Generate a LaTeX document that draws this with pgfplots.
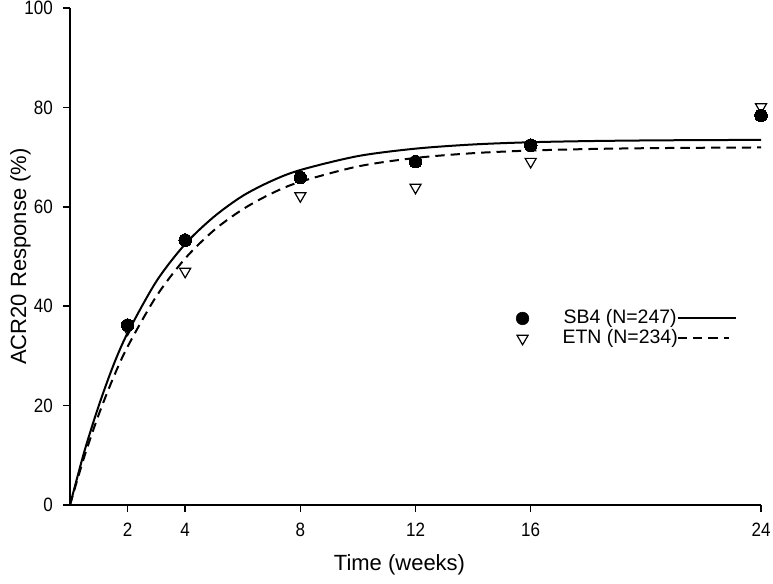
\documentclass[border=0pt]{standalone}
\usepackage{pgfplots}
\pgfplotsset{compat=1.18}
\usepackage{fontspec}
\setmainfont{Liberation Sans}
\begin{document}
\begin{tikzpicture}
\begin{axis}[
  scale only axis, width=518.25pt, height=372.75pt,
  xmin=0, xmax=24, ymin=0, ymax=100,
  axis lines*=left,
  axis line style={line width=1.1pt, black},
  tick align=outside,
  major tick style={line width=1.1pt, black},
  major tick length=5.25pt,
  xtick={2,4,8,12,16,24}, ytick={0,20,40,60,80,100},
  xticklabels={2,4,8,12,16,24},
  yticklabels={0,20,40,60,80,100},
  xticklabel style={font=\fontsize{14.5}{17}\selectfont, yshift=-4.5pt, xscale=0.88},
  yticklabel style={font=\fontsize{14.5}{17}\selectfont, xshift=-4.5pt, xscale=0.88},
  xlabel={Time (weeks)}, ylabel={ACR20 Response (\%)},
  label style={font=\fontsize{16.5}{19}\selectfont},
  xlabel style={at={(axis description cs:0.5,0)}, anchor=north, inner sep=0pt, yshift=-36.75pt, xshift=-12pt},
  ylabel style={at={(axis description cs:0,0.5)}, anchor=south, inner sep=0pt, yshift=29.25pt},
  clip=false,
  legend style={at={(axis cs:15.48,39.4)}, anchor=north west, draw=none, fill=none, inner sep=0pt,
    font=\fontsize{14.6}{17}\selectfont, row sep=1.5pt,
    nodes={inner sep=0pt, text height=10.5pt, text depth=3pt}},
]
\coordinate (sw) at (rel axis cs:0,0);
\coordinate (ne) at (rel axis cs:1,1);
% fitted curves
\addplot[black, line width=1.5pt, smooth, forget plot] coordinates {
 (0,0) (0.5,10.8) (1,20.0) (1.5,28.0) (2,34.6) (3,45.0) (4,52.5) (5,58.0) (6,62.2) (7,65.2) (8,67.4)
 (10,70.2) (12,71.7) (14,72.54) (16,72.99) (18,73.22) (20,73.35) (22,73.42) (24,73.46)};
\addplot[black, line width=1.5pt, smooth, dash pattern=on 7pt off 4.5pt, forget plot] coordinates {
 (0,0) (0.5,9.78) (1,18.23) (1.5,25.54) (2,31.85) (3,42.0) (4,49.6) (5,55.28) (6,59.5) (7,62.68) (8,65.04)
 (10,68.12) (12,69.83) (14,70.79) (16,71.32) (18,71.62) (20,71.79) (22,71.88) (24,71.94)};
% observed
\addplot[only marks, mark=*, mark size=4.75pt, mark options={fill=black, draw=black, line width=0pt},
  legend image code/.code={
    \fill[black] (0pt,0pt) circle (4.75pt);
    \path[draw=none] (0pt,0pt) -- (30pt,0pt);
    \draw[overlay, black, line width=1.5pt] (116.25pt,0pt) -- (159.75pt,0pt);
  }] coordinates {
 (2,36.2) (4,53.3) (8,65.9) (12,69.1) (16,72.4) (24,78.4)};
\addlegendentry{SB4 (N=247)}
\addplot[only marks, mark=triangle, mark size=4.8pt, mark options={rotate=180, fill=white, draw=black, line width=0.9pt},
  legend image code/.code={
    \draw[black, fill=white, line width=0.9pt] (0pt,-4.8pt) -- (4.157pt,2.4pt) -- (-4.157pt,2.4pt) -- cycle;
    \path[draw=none] (0pt,0pt) -- (30pt,0pt);
    \draw[overlay, black, line width=1.5pt, dash pattern=on 7pt off 4.5pt] (116.25pt,0pt) -- (154.5pt,0pt);
  }] coordinates {
 (2,35.4) (4,47.0) (8,62.2) (12,63.9) (16,69.1) (24,80.1)};
\addlegendentry{ETN (N=234)}
\end{axis}
\pgfresetboundingbox
\path ([shift={(-52.5pt,-59.25pt)}]sw) rectangle ([shift={(9pt,6pt)}]ne);
\end{tikzpicture}
\end{document}
